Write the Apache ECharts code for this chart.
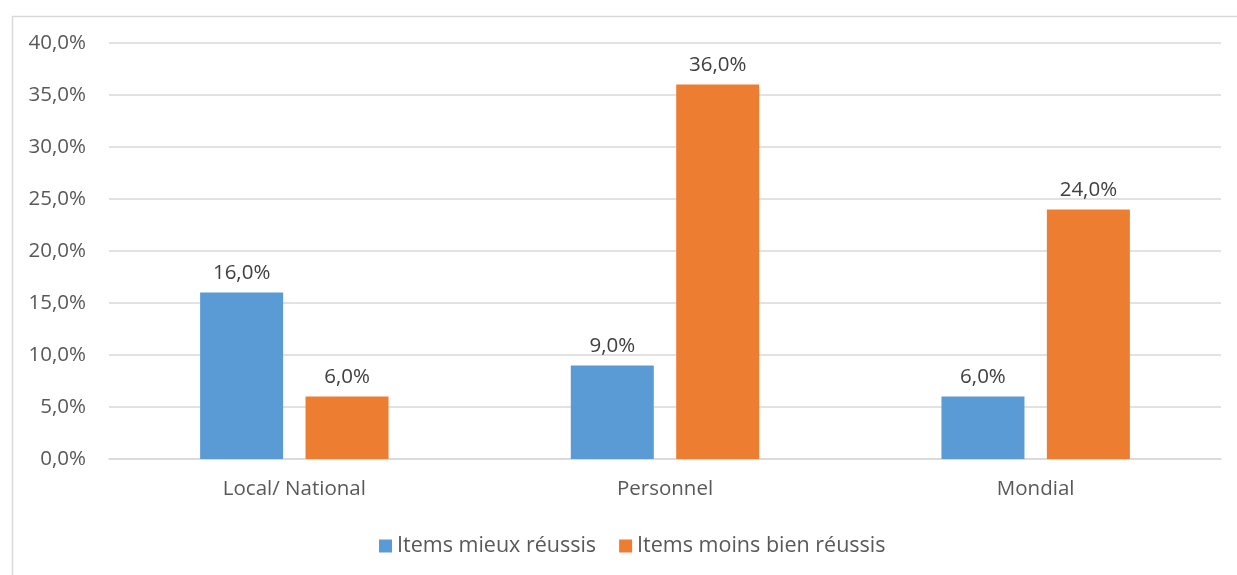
<!DOCTYPE html>
<html>
<head>
<meta charset="utf-8">
<script src="https://cdn.jsdelivr.net/npm/echarts@6/dist/echarts.min.js"></script>
<style>
  html, body { margin: 0; padding: 0; background: #ffffff; }
  #chart { width: 1237px; height: 575px; }
</style>
</head>
<body>
<div id="chart"></div>
<script>
// Share of items per domain, in percent
const categories = ['Local/ National', 'Personnel', 'Mondial'];
const seriesNames = ['Items mieux réussis', 'Items moins bien réussis'];
const mieuxReussis = [16.0, 9.0, 6.0];
const moinsBienReussis = [6.0, 36.0, 24.0];
const colors = ['#5B9BD5', '#ED7D31'];

const FONT = '"Open Sans", sans-serif';
const FS = 20.5;
const fmtPct = v => v.toFixed(1).replace('.', ',') + '%';

const chart = echarts.init(document.getElementById('chart'), null, { renderer: 'canvas' });

const labelStyle = {
  show: true,
  position: 'top',
  distance: 9,
  color: '#404040',
  fontFamily: FONT,
  fontSize: FS,
  formatter: p => fmtPct(p.value)
};

chart.setOption({
  animation: false,
  backgroundColor: '#ffffff',
  graphic: [{
    type: 'rect',
    left: 10,
    top: 14,
    shape: { width: 1240, height: 600 },
    style: { fill: 'none', stroke: '#d9d9d9', lineWidth: 1.5 },
    silent: true,
    z: -1
  }],
  grid: { left: 109, right: 16, top: 43, bottom: 116, containLabel: false },
  legend: {
    data: seriesNames,
    bottom: 13,
    left: 374,
    itemWidth: 13,
    itemHeight: 13,
    itemGap: 23,
    icon: 'rect',
    textStyle: { color: '#595959', fontFamily: FONT, fontSize: 21.5 }
  },
  xAxis: {
    type: 'category',
    data: categories,
    axisLine: { show: true, lineStyle: { color: '#d9d9d9', width: 1.5 } },
    axisTick: { show: false },
    axisLabel: { color: '#595959', fontFamily: FONT, fontSize: FS, margin: 20 }
  },
  yAxis: {
    type: 'value',
    min: 0,
    max: 40,
    interval: 5,
    axisLine: { show: false },
    axisTick: { show: false },
    splitLine: { lineStyle: { color: '#d9d9d9', width: 1.5 } },
    axisLabel: { color: '#595959', fontFamily: FONT, fontSize: FS, margin: 23, formatter: v => fmtPct(v) }
  },
  series: [
    {
      name: seriesNames[0],
      type: 'bar',
      data: mieuxReussis,
      barWidth: 83,
      barGap: '27%',
      itemStyle: { color: colors[0] },
      label: labelStyle
    },
    {
      name: seriesNames[1],
      type: 'bar',
      data: moinsBienReussis,
      barWidth: 83,
      barGap: '27%',
      itemStyle: { color: colors[1] },
      label: labelStyle
    }
  ]
});
</script>
</body>
</html>
